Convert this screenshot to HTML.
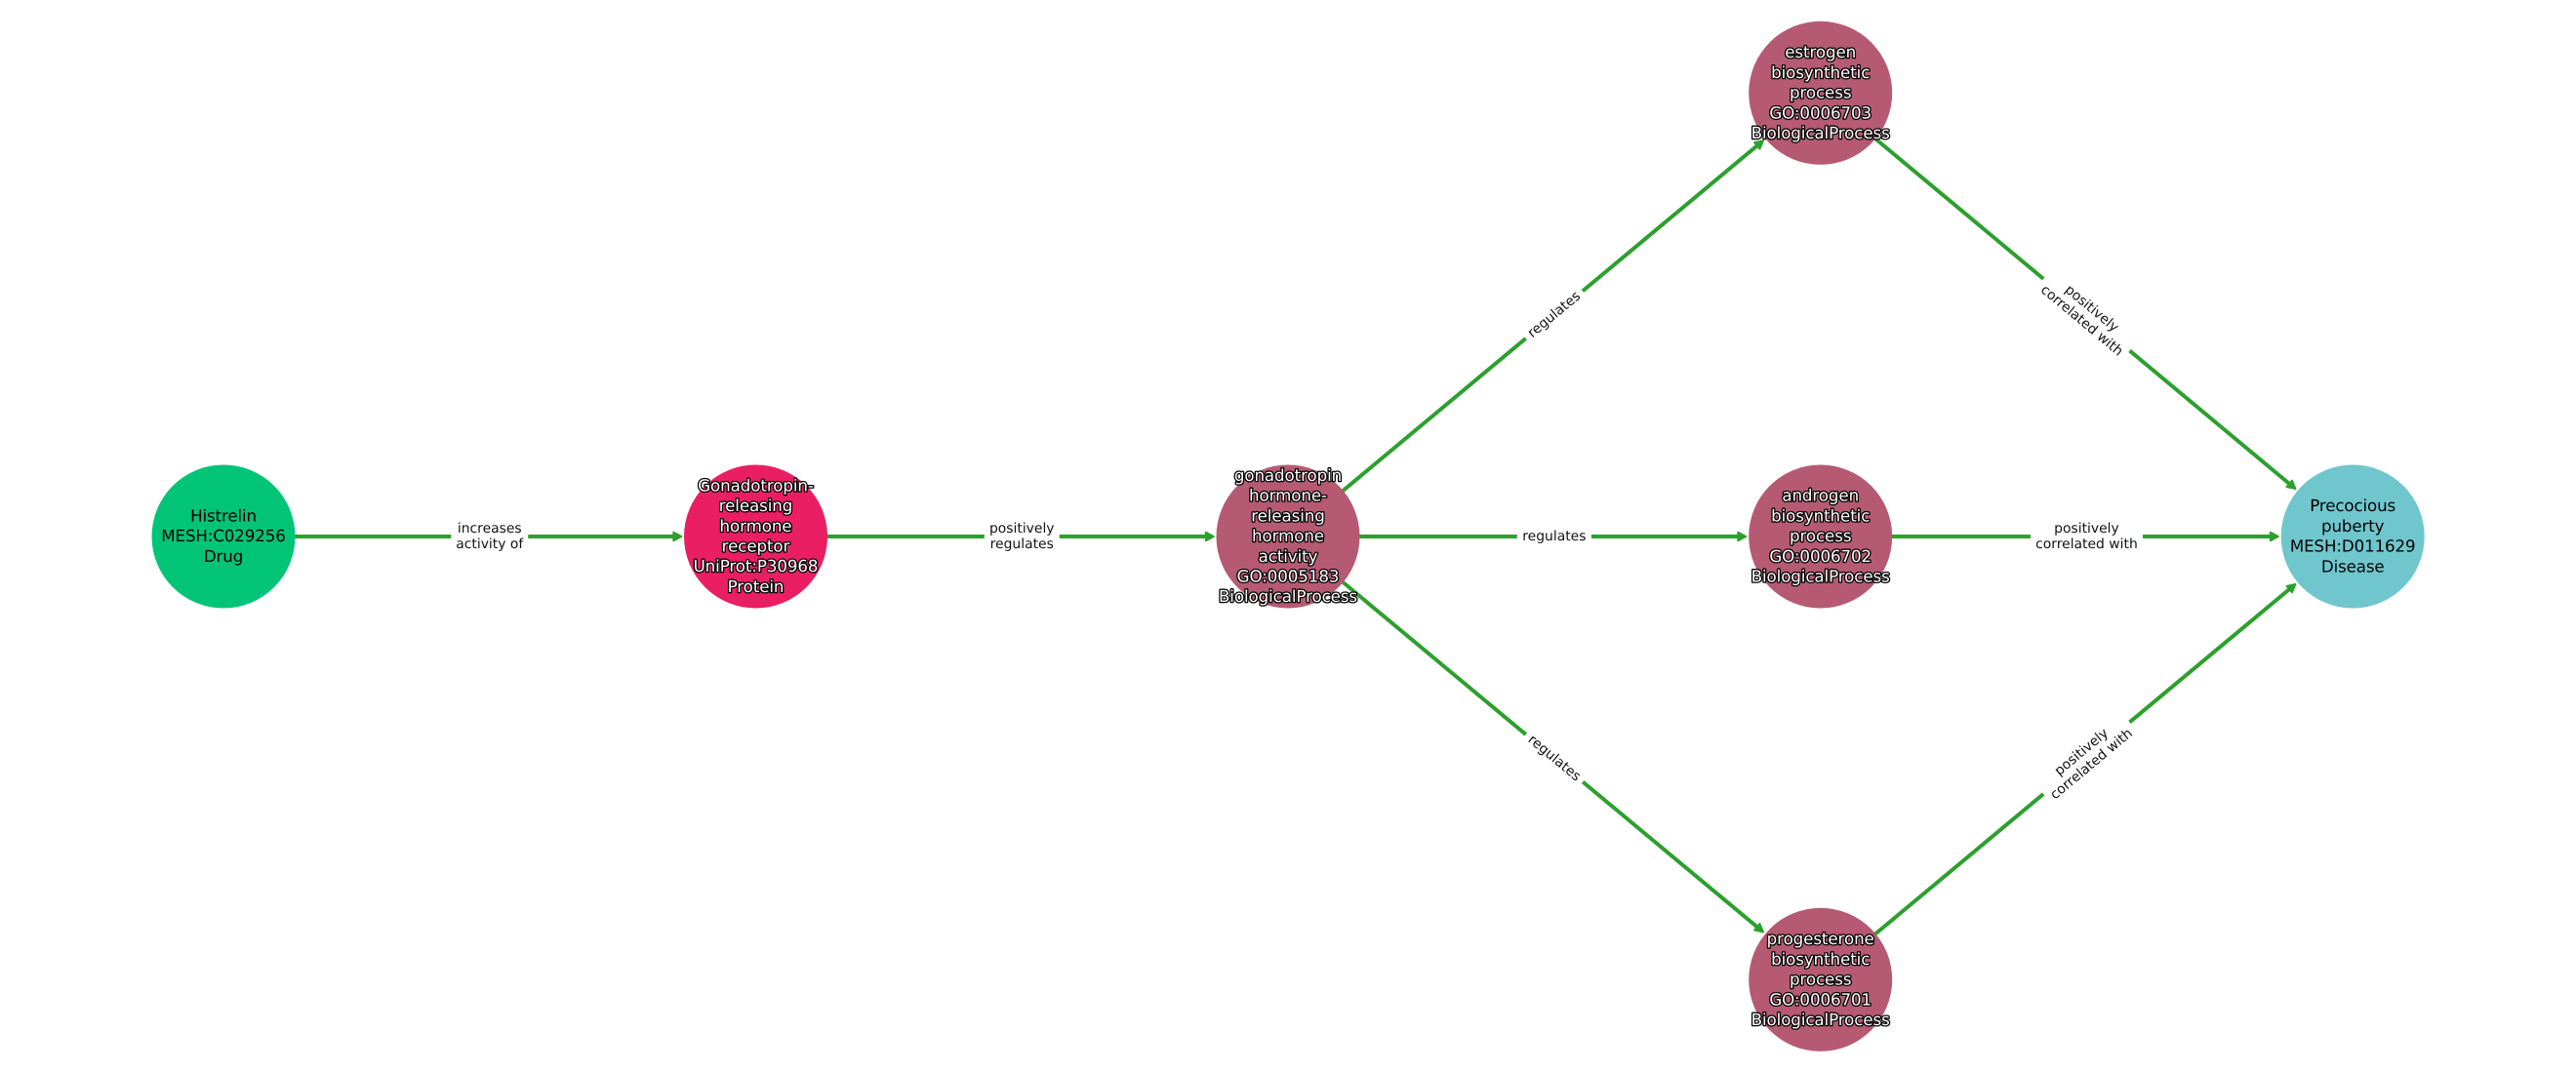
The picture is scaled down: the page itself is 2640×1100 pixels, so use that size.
<!DOCTYPE html>
<html><head><meta charset="utf-8"><style>
html,body{margin:0;padding:0;background:#fff;width:2640px;height:1100px;overflow:hidden}
svg{display:block}
text{font-family:"DejaVu Sans","Liberation Sans",sans-serif;text-anchor:middle;text-rendering:geometricPrecision}
.n{font-size:16.67px;fill:#000;letter-spacing:-0.12px}
.h{font-size:16.67px;fill:#fff;stroke:#000;stroke-width:2.6px;paint-order:stroke;stroke-linejoin:round;letter-spacing:-0.08px}
.e{font-size:13.9px;fill:#111}
.l{stroke:#2ca02c;stroke-width:4;fill:none}
.a{fill:#2ca02c;stroke:#2ca02c;stroke-width:2;stroke-linejoin:round}
</style></head><body>
<svg width="2640" height="1100" viewBox="0 0 2640 1100" xmlns="http://www.w3.org/2000/svg">
<rect width="2640" height="1100" fill="#fff"/>
<g class="l">
<line x1="229" y1="550" x2="696" y2="550"/>
<line x1="774.5" y1="550" x2="1241" y2="550"/>
<line x1="1320" y1="550" x2="1786" y2="550"/>
<line x1="1865.7" y1="550" x2="2332" y2="550"/>
<line x1="1320" y1="550" x2="1805" y2="145.8"/>
<line x1="1320" y1="550" x2="1805" y2="953.8"/>
<line x1="1865.7" y1="95.3" x2="2350.5" y2="499.5"/>
<line x1="1865.7" y1="1004.3" x2="2350.5" y2="600.5"/>
</g>
<defs><polygon id="ah" points="-1,0 -9,-4.2 -9,4.2"/></defs>
<g class="a">
<use href="#ah" transform="translate(699.3 550)"/>
<use href="#ah" transform="translate(1244.8 550)"/>
<use href="#ah" transform="translate(1790.2 550)"/>
<use href="#ah" transform="translate(2335.8 550)"/>
<use href="#ah" transform="translate(1807.7 143.6) rotate(-39.8)"/>
<use href="#ah" transform="translate(1807.7 956) rotate(39.8)"/>
<use href="#ah" transform="translate(2353.2 501.7) rotate(39.8)"/>
<use href="#ah" transform="translate(2353.2 598.3) rotate(-39.8)"/>
</g>
<circle cx="229" cy="550" r="73.5" fill="#02c476"/>
<circle cx="774.5" cy="550" r="73.5" fill="#e91e63"/>
<circle cx="1320" cy="550" r="73.5" fill="#b55a72"/>
<circle cx="1865.7" cy="95.3" r="73.5" fill="#b55a72"/>
<circle cx="1865.7" cy="550" r="73.5" fill="#b55a72"/>
<circle cx="1865.7" cy="1004.3" r="73.5" fill="#b55a72"/>
<circle cx="2411.2" cy="550" r="73.5" fill="#70c6cd"/>

<g transform="translate(501.75 550)"><rect x="-39.5" y="-22" width="79" height="44" fill="#fff"/><text class="e" y="-4">increases</text><text class="e" y="12">activity of</text></g>
<g transform="translate(1047.25 550)"><rect x="-38.5" y="-22" width="77" height="44" fill="#fff"/><text class="e" y="-4">positively</text><text class="e" y="12">regulates</text></g>
<g transform="translate(1592.85 550)"><rect x="-38" y="-14" width="76" height="28" fill="#fff"/><text class="e" y="4">regulates</text></g>
<g transform="translate(2138.45 550)"><rect x="-57.5" y="-22" width="115" height="44" fill="#fff"/><text class="e" y="-4">positively</text><text class="e" y="12">correlated with</text></g>
<g transform="translate(1592.85 322.65) rotate(-39.8)"><rect x="-38" y="-14" width="76" height="28" fill="#fff"/><text class="e" y="4">regulates</text></g>
<g transform="translate(1592.85 777.35) rotate(39.8)"><rect x="-38" y="-14" width="76" height="28" fill="#fff"/><text class="e" y="4">regulates</text></g>
<g transform="translate(2138.45 322.65) rotate(39.8)"><rect x="-57.5" y="-22" width="115" height="44" fill="#fff"/><text class="e" y="-4">positively</text><text class="e" y="12">correlated with</text></g>
<g transform="translate(2138.45 777.35) rotate(-39.8)"><rect x="-57.5" y="-22" width="115" height="44" fill="#fff"/><text class="e" y="-4">positively</text><text class="e" y="12">correlated with</text></g>

<g class="n">
<text x="229" y="534.5">Histrelin</text>
<text x="229" y="555.2">MESH:C029256</text>
<text x="229" y="575.9">Drug</text>
<text x="2411.2" y="524.2">Precocious</text>
<text x="2411.2" y="544.9">puberty</text>
<text x="2411.2" y="565.6">MESH:D011629</text>
<text x="2411.2" y="586.3">Disease</text>
</g>
<g class="h">
<text x="774.5" y="503.4">Gonadotropin-</text>
<text x="774.5" y="524.1">releasing</text>
<text x="774.5" y="544.8">hormone</text>
<text x="774.5" y="565.5">receptor</text>
<text x="774.5" y="586.2">UniProt:P30968</text>
<text x="774.5" y="606.9">Protein</text>

<text x="1320" y="493">gonadotropin</text>
<text x="1320" y="513.7">hormone-</text>
<text x="1320" y="534.4">releasing</text>
<text x="1320" y="555.1">hormone</text>
<text x="1320" y="575.8">activity</text>
<text x="1320" y="596.5">GO:0005183</text>
<text x="1320" y="617.2">BiologicalProcess</text>

<text x="1865.7" y="59.2">estrogen</text>
<text x="1865.7" y="79.9">biosynthetic</text>
<text x="1865.7" y="100.6">process</text>
<text x="1865.7" y="121.3">GO:0006703</text>
<text x="1865.7" y="142">BiologicalProcess</text>

<text x="1865.7" y="513.7">androgen</text>
<text x="1865.7" y="534.4">biosynthetic</text>
<text x="1865.7" y="555.1">process</text>
<text x="1865.7" y="575.8">GO:0006702</text>
<text x="1865.7" y="596.5">BiologicalProcess</text>

<text x="1865.7" y="968.2">progesterone</text>
<text x="1865.7" y="988.9">biosynthetic</text>
<text x="1865.7" y="1009.6">process</text>
<text x="1865.7" y="1030.3">GO:0006701</text>
<text x="1865.7" y="1051">BiologicalProcess</text>
</g>
</svg>
</body></html>
